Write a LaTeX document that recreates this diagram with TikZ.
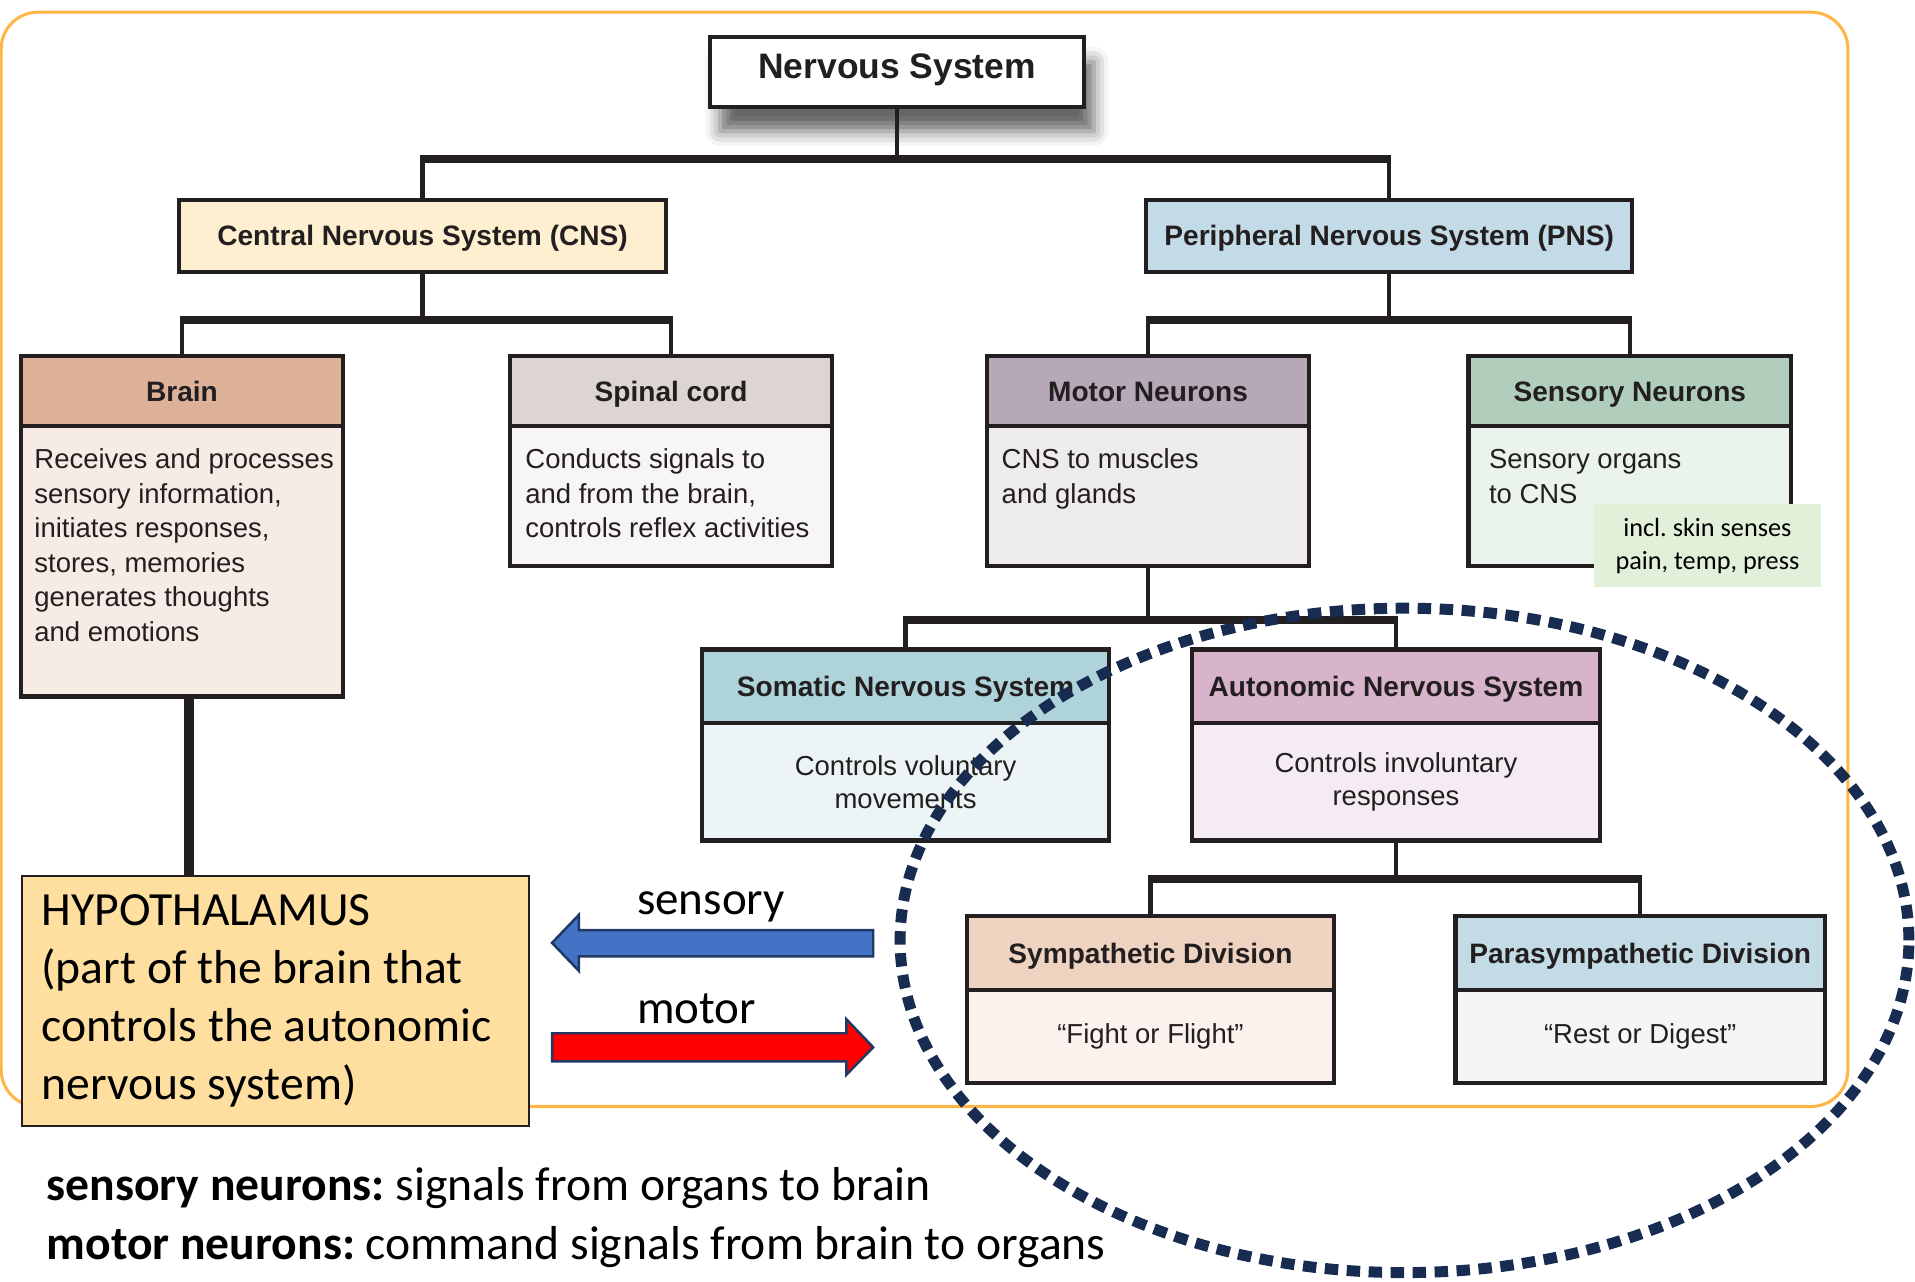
\documentclass[tikz,border=0pt]{standalone}
\usepackage{fontspec}
\setmainfont{Liberation Sans}
\newfontfamily\calibfont{Carlito}
\usetikzlibrary{positioning,shadows.blur}
\frenchspacing

\definecolor{ink}{HTML}{231F20}
\definecolor{framecol}{HTML}{FFB547}
\definecolor{cnsfill}{HTML}{FDEFCF}
\definecolor{pnsfill}{HTML}{C3DBE6}
\definecolor{brainhd}{HTML}{DDB299}
\definecolor{brainbd}{HTML}{F6ECE5}
\definecolor{spinalhd}{HTML}{DDD5D1}
\definecolor{spinalbd}{HTML}{F8F5F5}
\definecolor{motorhd}{HTML}{B7A8B7}
\definecolor{motorbd}{HTML}{EEEBEE}
\definecolor{sensehd}{HTML}{B0CEBB}
\definecolor{sensebd}{HTML}{EBF4EC}
\definecolor{somahd}{HTML}{AED3DB}
\definecolor{somabd}{HTML}{ECF4F5}
\definecolor{autohd}{HTML}{D8B3CC}
\definecolor{autobd}{HTML}{F5ECF3}
\definecolor{symhd}{HTML}{EFD3C1}
\definecolor{symbd}{HTML}{FCF3EF}
\definecolor{parahd}{HTML}{C3DBE5}
\definecolor{parabd}{HTML}{F6F5F6}
\definecolor{notefill}{HTML}{E2EFD9}
\definecolor{hypofill}{HTML}{FEDFA0}
\definecolor{sensblue}{HTML}{4472C4}
\definecolor{arrowedge}{HTML}{1F3864}
\definecolor{ringblue}{HTML}{172C50}

\tikzset{
  box/.style={draw=ink, line width=3.5pt, outer sep=0pt, inner sep=0pt, text=ink},
  head/.style={box, font=\fontsize{23}{28}\selectfont\bfseries, text height=16.5pt, text depth=0pt},
  body/.style={box, font=\fontsize{22.5}{27}\selectfont, align=center},
  bodytext/.style={font=\fontsize{22.5}{28.2}\selectfont, align=left, inner sep=0pt, text=ink, anchor=base west},
  stem/.style={draw=ink, line width=3.5pt},
  bar/.style={draw=ink, line width=6.5pt, shorten <=-1.75pt, shorten >=-1.75pt},
  slide/.style={font=\calibfont\fontsize{39}{47.5}\selectfont, inner sep=0pt},
  frame/.style={draw=framecol, line width=2.5pt, rounded corners=30pt},
  blockarrow/.style={draw=arrowedge, line width=2pt, line join=miter},
  dotring/.style={draw=ringblue, line width=9pt, dash pattern=on 11pt off 7pt}
}

\begin{document}
\begin{tikzpicture}[x=1pt, y=-1pt]
  \useasboundingbox (0,0) rectangle (1568,1049);
  \draw[frame] (1,10) rectangle (1513,906);

  % top of the tree
  \node[head, fill=white, minimum width=306pt, minimum height=57pt,
        font=\fontsize{29}{34}\selectfont\bfseries, text height=20.8pt, text depth=10pt,
        blur shadow={shadow xshift=8pt, shadow yshift=-20pt, shadow blur radius=12pt, shadow opacity=60}]
        (ns) at (734.5,59) {Nervous System};
  \node[head, fill=cnsfill, minimum width=399pt, minimum height=59pt] (cns) at (346,193) {Central Nervous System (CNS)};
  \node[head, fill=pnsfill, minimum width=398pt, minimum height=59pt] (pns) at (1137.5,193) {Peripheral Nervous System (PNS)};

  % third row
  \node[head, fill=brainhd, minimum width=264pt, minimum height=57.25pt] (brainH) at (149,320.4) {Brain};
  \node[body, fill=brainbd, minimum width=264pt, minimum height=221.25pt, below=0pt of brainH] (brainB) {};
  \node[head, fill=spinalhd, minimum width=264pt, minimum height=57.25pt] (spinalH) at (549.5,320.4) {Spinal cord};
  \node[body, fill=spinalbd, minimum width=264pt, minimum height=114.25pt, below=0pt of spinalH] (spinalB) {};
  \node[head, fill=motorhd, minimum width=264pt, minimum height=57.25pt] (motorH) at (940,320.4) {Motor Neurons};
  \node[body, fill=motorbd, minimum width=264pt, minimum height=114.25pt, below=0pt of motorH] (motorB) {};
  \node[head, fill=sensehd, minimum width=264pt, minimum height=57.25pt] (senseH) at (1334.5,320.4) {Sensory Neurons};
  \node[body, fill=sensebd, minimum width=264pt, minimum height=114.25pt, below=0pt of senseH] (senseB) {};

  % base = last line
  \node[bodytext] (brainT) at (28,525) {Receives and processes\\sensory information,\\initiates responses,\\stores, memories\\generates thoughts\\and emotions};
  \node[bodytext] (spinalT) at (430,440.4) {Conducts signals to\\and from the brain,\\controls reflex activities};
  \node[bodytext] (motorT) at (820,412.2) {CNS to muscles\\and glands};
  \node[bodytext] (senseT) at (1219,412.2) {Sensory organs\\to CNS};

  % fourth row
  \node[head, fill=somahd, minimum width=333.5pt, minimum height=60.25pt] (somaH) at (741.5,561.9) {Somatic Nervous System};
  \node[body, fill=somabd, minimum width=333.5pt, minimum height=96.25pt, below=0pt of somaH] (somaB) {Controls voluntary\\movements};
  \node[head, fill=autohd, minimum width=334.5pt, minimum height=60.25pt] (autoH) at (1143,561.9) {Autonomic Nervous System};
  \node[body, fill=autobd, minimum width=334.5pt, minimum height=96.25pt, below=0pt of autoH] (autoB) {Controls involuntary\\responses};

  % fifth row
  \node[head, fill=symhd, minimum width=300.5pt, minimum height=60.4pt] (symH) at (942,780.4) {Sympathetic Division};
  \node[body, fill=symbd, minimum width=300.5pt, minimum height=76pt, below=0pt of symH] (symB) {“Fight or Flight”};
  \node[head, fill=parahd, minimum width=302.5pt, minimum height=60.4pt] (paraH) at (1343,780.4) {Parasympathetic Division};
  \node[body, fill=parabd, minimum width=302.5pt, minimum height=76pt, below=0pt of paraH] (paraB) {“Rest or Digest”};

  % connectors
  \coordinate (r1) at (0,130);
  \coordinate (r2) at (0,262);
  \coordinate (r3) at (0,508);
  \coordinate (r4) at (0,720);
  \draw[stem] (ns.south) -- (ns.south |- r1);
  \draw[bar] (cns.north |- r1) -- (pns.north |- r1);
  \draw[stem] (cns.north |- r1) -- (cns.north);
  \draw[stem] (pns.north |- r1) -- (pns.north);
  \draw[stem] (cns.south) -- (cns.south |- r2);
  \draw[bar] (brainH.north |- r2) -- (spinalH.north |- r2);
  \draw[stem] (brainH.north |- r2) -- (brainH.north);
  \draw[stem] (spinalH.north |- r2) -- (spinalH.north);
  \draw[stem] (pns.south) -- (pns.south |- r2);
  \draw[bar] (motorH.north |- r2) -- (senseH.north |- r2);
  \draw[stem] (motorH.north |- r2) -- (motorH.north);
  \draw[stem] (senseH.north |- r2) -- (senseH.north);
  \draw[stem] (motorB.south) -- (motorB.south |- r3);
  \draw[bar] (somaH.north |- r3) -- (autoH.north |- r3);
  \draw[stem] (somaH.north |- r3) -- (somaH.north);
  \draw[stem] (autoH.north |- r3) -- (autoH.north);
  \draw[stem] (autoB.south) -- (autoB.south |- r4);
  \draw[bar] (symH.north |- r4) -- (paraH.north |- r4);
  \draw[stem] (symH.north |- r4) -- (symH.north);
  \draw[stem] (paraH.north |- r4) -- (paraH.north);

  % hypothalamus
  \node[slide, draw=ink, line width=1.5pt, fill=hypofill, minimum width=415pt, minimum height=205pt,
        text width=383pt, inner xsep=16pt, align=flush left] (hypo) at (225.5,819.5)
        {HYPOTHALAMUS\\(part of the brain that\\controls the autonomic\\nervous system)};
  \draw[ink, line width=8pt] ([xshift=6pt]brainB.south) -- ([xshift=6pt]brainB.south |- hypo.north);

  % sensory / motor
  \draw[blockarrow, fill=sensblue] (715,761.5) -- (474,761.5) -- (474,749) -- (452,772)
        -- (474,795) -- (474,783) -- (715,783) -- cycle;
  \draw[blockarrow, fill=red] (452,846) -- (693,846) -- (693,834.5) -- (715,857.5)
        -- (693,880) -- (693,869) -- (452,869) -- cycle;
  \node[slide, font=\calibfont\fontsize{38.5}{46}\selectfont, anchor=base west] (senslbl) at (521.5,749) {sensory};
  \node[slide, font=\calibfont\fontsize{38.5}{46}\selectfont, anchor=base west] (motorlbl) at (521.5,838) {motor};

  % skin note
  \node[fill=notefill, minimum width=186pt, minimum height=68pt, inner sep=0pt, align=center,
        font=\calibfont\fontsize{21.5}{27}\selectfont] (skin) at (1398,447) {incl. skin senses\\pain, temp, press};

  % legend, base = last line
  \node[slide, font=\calibfont\fontsize{39}{48}\selectfont, anchor=base west, align=left] (legend) at (38,1031)
        {\textbf{sensory neurons:} signals from organs to brain\\\textbf{motor neurons:} command signals from brain to organs};

  % autonomic ring
  \draw[dotring] (1150,770) ellipse [x radius=413pt, y radius=272pt];
\end{tikzpicture}
\end{document}
